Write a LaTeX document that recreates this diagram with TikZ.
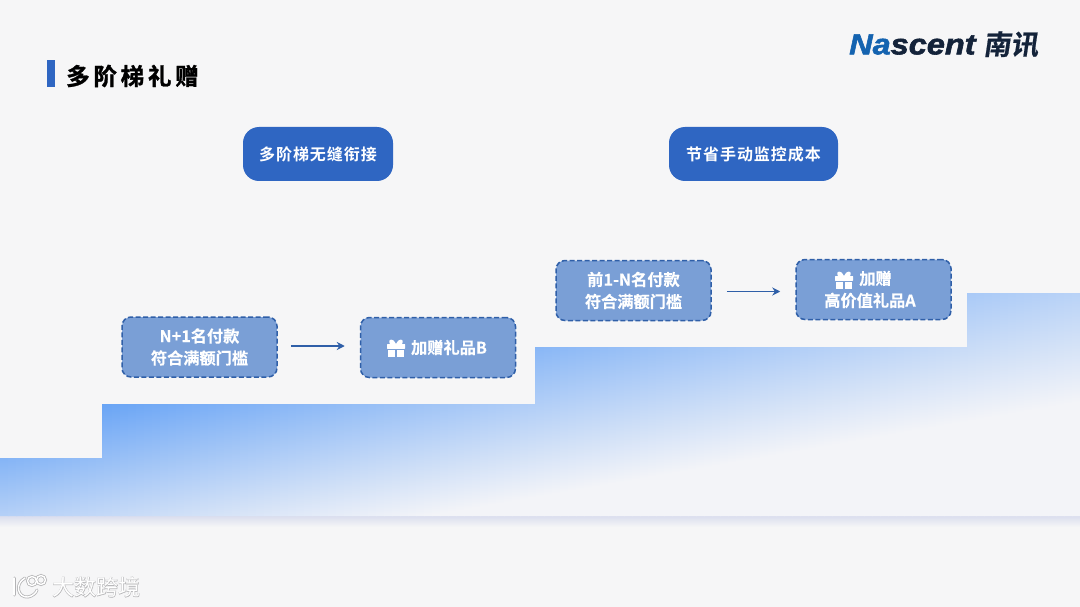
\documentclass[tikz,border=0pt]{standalone}
\usepackage{fontspec}
\setmainfont{Noto Sans CJK SC}[BoldFont={Noto Sans CJK SC Bold}]
\newfontfamily\boldcjk[FakeBold=0.2]{Noto Sans CJK SC Bold}
\newfontfamily\titlecjk[LetterSpace=16,FakeBold=1.2]{Noto Sans CJK SC Bold}
\newfontfamily\pillcjk[LetterSpace=6]{Noto Sans CJK SC Bold}
\newfontfamily\logolatin[FakeStretch=1.12,FakeBold=2]{Liberation Sans Bold Italic}
\newfontfamily\logocjk[FakeSlant=0.15,FakeBold=0.6]{Noto Sans CJK SC Bold}
\newfontfamily\marklight{Noto Sans CJK SC}
\newfontfamily\markhalo[FakeBold=3]{Noto Sans CJK SC}
\usetikzlibrary{arrows.meta}
\definecolor{pagebg}{HTML}{F6F6F7}
\definecolor{deepblue}{HTML}{2F66C2}
\definecolor{dashblue}{HTML}{2F5FA8}
\definecolor{softblue}{HTML}{7A9FD6}
\definecolor{stairtop}{HTML}{5E9EF5}
\definecolor{stairmid}{HTML}{B2CDF3}
\definecolor{stairlow}{HTML}{F3F4F8}
\definecolor{edgeline}{HTML}{DADEEE}
\definecolor{logoblue}{HTML}{1463B0}
\definecolor{logodark}{HTML}{14233A}
\definecolor{markgray}{HTML}{B4B4B6}
\tikzset{
  pillbox/.style={fill=deepblue, rounded corners=16pt, text=white, text height=14pt, text depth=0pt,
    font=\pillcjk\fontsize{16}{18}\selectfont},
  dashbox/.style={draw=dashblue, fill=softblue, line width=1.5pt, dash pattern=on 5pt off 2.5pt, rounded corners=9pt,
    minimum width=155pt, minimum height=60pt, inner sep=0pt, text=white, align=center,
    font=\boldcjk\fontsize{16.2}{22}\selectfont},
  flowarrow/.style={draw=dashblue, line width=1.7pt, -{Stealth[length=8pt,width=8pt]}},
  gift/.pic={
    \fill[white, rounded corners=0.5pt] (-9,-4) rectangle (9,0.8);
    \fill[white] (-8,1.8) rectangle (-0.8,9);
    \fill[white] (0.8,1.8) rectangle (8,9);
    \fill[white] (0,-4) .. controls (-2,-10) and (-9,-10) .. (-6,-4) -- cycle;
    \fill[white] (0,-4) .. controls (2,-10) and (9,-10) .. (6,-4) -- cycle;
  }
}
\begin{document}
\begin{tikzpicture}[x=1pt, y=-1pt]
\useasboundingbox (0,0) rectangle (1080,607);
\fill[pagebg] (0,0) rectangle (1080,607);
% stairs
\shade[top color=edgeline, bottom color=pagebg] (0,516) rectangle (1080,527);
\begin{scope}
\clip (0,458) -- (102,458) -- (102,404) -- (535,404) -- (535,347) -- (967,347) -- (967,293)
  -- (1080,293) -- (1080,516) -- (0,516) -- cycle;
\foreach \x in {0,8,...,1080}
{\pgfmathsetmacro{\ytop}{412-0.13*\x}
 \pgfmathsetmacro{\ylow}{590-0.175*\x}
 \pgfmathsetmacro{\fade}{100-0.05*\x}
 \fill[stairlow] (\x,\ylow) rectangle (\x+9,530);
 \shade[top color=stairtop!\fade!stairlow, middle color=stairmid!\fade!stairlow, bottom color=stairlow] (\x,\ytop) rectangle (\x+9,\ylow);}
\end{scope}
% heading
\fill[deepblue] (47,60) rectangle (55,87);
\node[anchor=west, inner sep=0pt, text=black, font=\titlecjk\fontsize{23.5}{26}\selectfont] (heading) at (66,76) {多阶梯礼赠};
% logo
\node[anchor=west, inner sep=0pt, font=\logolatin\fontsize{29}{32}\selectfont] (logoname) at (849,44.5)
  {\textcolor{logoblue}{Na}\textcolor{logodark}{scent}};
\node[anchor=west, inner sep=0pt, text=logodark, font=\logocjk\fontsize{27.5}{30}\selectfont] (logocn) at (983,44.5) {南讯};
% top labels
\node[pillbox, minimum width=150pt, minimum height=54pt] (seamless) at (318,154) {多阶梯无缝衔接};
\node[pillbox, minimum width=169pt, minimum height=54pt] (saving) at (753.5,154) {节省手动监控成本};
% steps
\node[dashbox] (payb) at (199.5,347) {N+1名付款\\符合满额门槛};
\node[dashbox] (giftb) at (438,347.5) {\hspace*{22pt}加赠礼品B};
\node[dashbox] (paya) at (633.5,290.5) {前1-N名付款\\符合满额门槛};
\node[dashbox] (gifta) at (873.5,289.5) {\hspace*{4pt}加赠\\高价值礼品A\hspace*{7pt}};
\pic at (396,348) {gift};
\pic at (844,280) {gift};
\draw[flowarrow, shorten <=13pt, shorten >=15pt] ([yshift=1pt]payb.east) -- ([yshift=1.5pt]giftb.west);
\draw[flowarrow, shorten <=15pt, shorten >=15pt] ([yshift=-1pt]paya.east) -- ([yshift=-2pt]gifta.west);
% watermark
\foreach \c/\w in {markgray/3,white/1.4}
{\draw[\c, line width=\w pt, line cap=round] (14,578) -- (14,595);
 \draw[\c, line width=\w pt, line cap=round] (25,578) .. controls (14,584) and (18,598) .. (28,597) .. controls (33,596) and (36,593) .. (37,590);
 \draw[\c, line width=\w pt] (32,581) circle (4.5);
 \draw[\c, line width=\w pt] (41,580) circle (4.5);}
\node[anchor=west, inner sep=0pt, text=markgray, font=\markhalo\fontsize{22}{24}\selectfont] (markback) at (52,587) {大数跨境};
\node[anchor=west, inner sep=0pt, text=white, font=\marklight\fontsize{22}{24}\selectfont] (markfront) at (52,587) {大数跨境};
\end{tikzpicture}
\end{document}
